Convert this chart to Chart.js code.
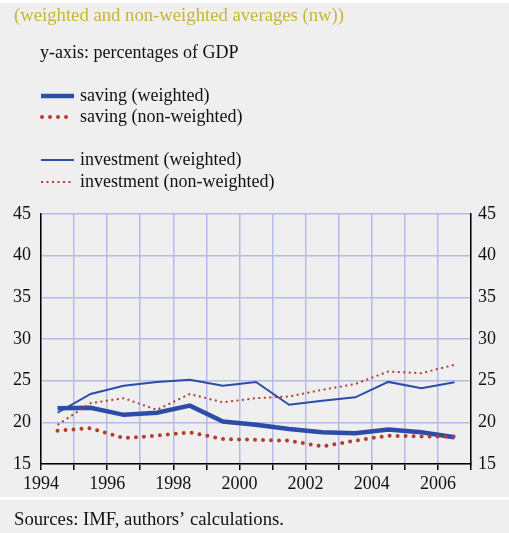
<!DOCTYPE html>
<html>
<head>
<meta charset="utf-8">
<script src="https://cdn.jsdelivr.net/npm/chart.js@4"></script>
<style>
html,body{margin:0;padding:0;background:#efefef;}
canvas{display:block;}
</style>
</head>
<body>
<canvas id="chart" width="509" height="533"></canvas>
<script>
const years = [1994,1995,1996,1997,1998,1999,2000,2001,2002,2003,2004,2005,2006];

const savingW = [21.7,21.75,20.9,21.15,22.0,20.1,19.7,19.2,18.8,18.7,19.15,18.8,18.2];
const savingNW = [19.0,19.3,18.1,18.4,18.8,18.0,17.9,17.8,17.1,17.8,18.4,18.3,18.3];
const investW = [21.15,23.4,24.4,24.85,25.1,24.4,24.85,22.1,22.6,23.0,24.85,24.1,24.8];
const investNW = [19.7,22.3,22.9,21.5,23.4,22.4,22.9,23.1,23.9,24.6,26.1,25.9,26.9];

const titleText = "(weighted and non-weighted averages (nw))";
const unitText = "y-axis: percentages of GDP";
const sourceText = "Sources: IMF, authors\u2019 calculations.";

const BLUE = "#2c4ca8";
const RED = "#b53b2f";
const GRID = "#b5bbe8";
const FONT = "'Liberation Serif', 'Times New Roman', serif";

// values are plotted in the middle of each year
const pts = arr => arr.map((v,i)=>({x:years[i]+0.5, y:v}));

const sets = [
{label:"investment (non-weighted)", data:pts(investNW), borderColor:RED, borderWidth:2, borderDash:[2,3.5], legendRow:182},
{label:"investment (weighted)", data:pts(investW), borderColor:BLUE, borderWidth:2, legendRow:160},
{label:"saving (non-weighted)", data:pts(savingNW), borderColor:RED, borderWidth:4, borderDash:[0,8], borderCapStyle:"round", legendRow:117},
{label:"saving (weighted)", data:pts(savingW), borderColor:BLUE, borderWidth:4.5, legendRow:96}
];

/* background, titles, hand made legend, source line */
const frame = {
id:"frame",
beforeDraw(chart){
const c = chart.ctx;
c.save();
c.fillStyle = "#efefef";
c.fillRect(0,0,chart.width,chart.height);
c.fillStyle = "#ffffff";
c.fillRect(0,0,chart.width,3);
c.fillRect(0,497,chart.width,3);
c.restore();
},
afterDraw(chart){
const c = chart.ctx;
c.save();
c.textBaseline = "middle";
c.font = "18.7px " + FONT;
c.fillStyle = "#c9b437";
c.fillText(titleText,14,16);
c.font = "18px " + FONT;
c.fillStyle = "#111";
c.fillText(unitText,40,53);
chart.data.datasets.forEach(ds=>{
const y = ds.legendRow;
c.strokeStyle = ds.borderColor;
c.lineWidth = ds.borderWidth;
c.lineCap = ds.borderCapStyle || "butt";
c.setLineDash(ds.borderDash || []);
c.beginPath();
c.moveTo(ds.borderDash && ds.borderWidth > 3 ? 42 : 41, y);
c.lineTo(74, y);
c.stroke();
c.setLineDash([]);
c.fillStyle = "#111";
c.fillText(ds.label,80,y);
});
c.font = "18.7px " + FONT;
c.fillText(sourceText,14,520);
c.restore();
}
};

new Chart(document.getElementById("chart"),{
type:"line",
data:{datasets:sets},
plugins:[frame],
options:{
responsive:false,
animation:false,
layout:{padding:{top:214,left:0,right:0,bottom:0}},
elements:{point:{radius:0}, line:{tension:0, fill:false}},
plugins:{legend:{display:false}, tooltip:{enabled:false}},
scales:{
x:{
type:"linear", min:1994, max:2007,
afterFit:s=>{s.height = 69;},
border:{color:"#000", width:1.5},
grid:{color:GRID, lineWidth:1.5, tickLength:6, tickColor:"#000", tickWidth:1.5},
ticks:{stepSize:1, autoSkip:false, maxRotation:0, padding:3, color:"#111",
font:{family:FONT, size:18},
callback:v=> v % 2 === 0 ? String(v) : ""}
},
y:{
position:"left", min:15, max:45,
afterFit:s=>{s.width = 41;},
border:{color:"#000", width:1.5},
grid:{color:GRID, lineWidth:1.5, drawTicks:false},
ticks:{stepSize:5, padding:10, color:"#111", font:{family:FONT, size:18}}
},
y2:{
position:"right", min:15, max:45,
afterFit:s=>{s.width = 38;},
border:{color:"#000", width:1.5},
grid:{display:false, drawTicks:false},
ticks:{stepSize:5, padding:7, color:"#111", font:{family:FONT, size:18}}
}
}
}
});
</script>
</body>
</html>
